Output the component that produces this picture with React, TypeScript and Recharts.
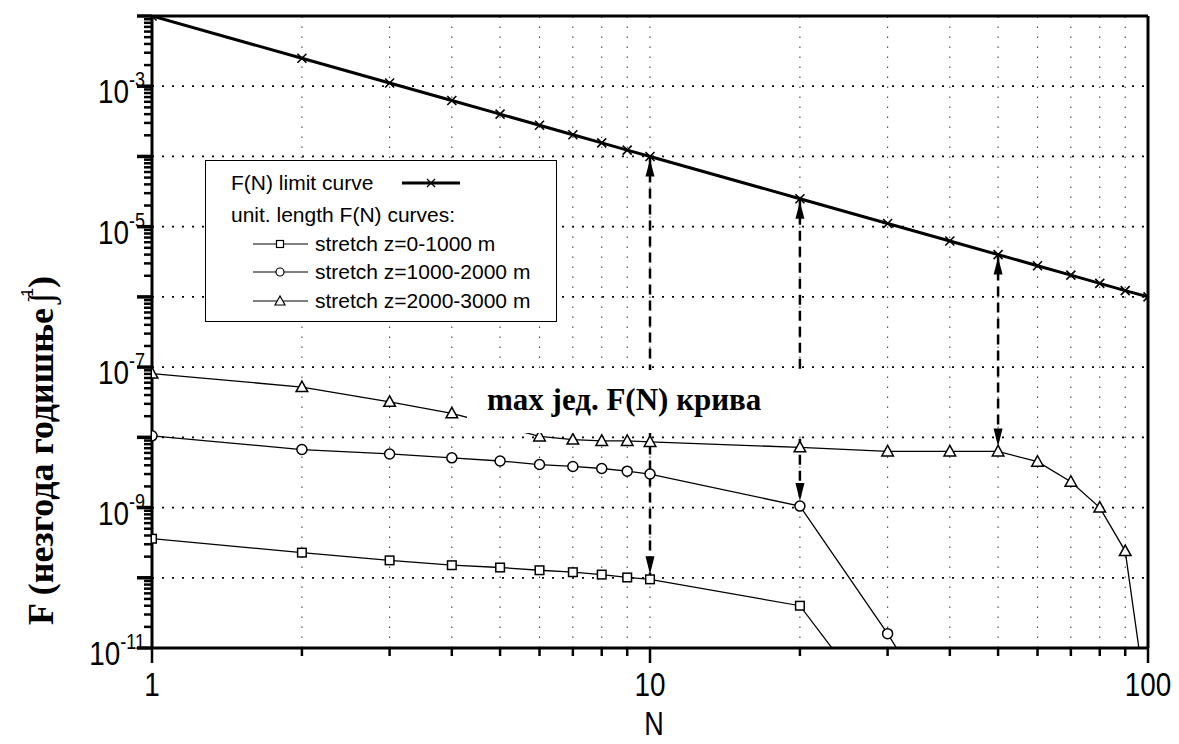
import React from 'react';
import { LineChart, Line, XAxis, YAxis, ReferenceLine } from 'recharts';

document.body.style.margin = '0';

const sans = '"Liberation Sans", Arial, sans-serif';
const serif = '"Liberation Serif", "Times New Roman", serif';
// axis numbers use a condensed sans: regular sans squeezed horizontally
const NARROW = 0.82;

// ── data ─────────────────────────────────────────────
// F(N) limit curve
const nLimit = [1, 2, 3, 4, 5, 6, 7, 8, 9, 10, 20, 30, 40, 50, 60, 70, 80, 90, 100];
const fLimit = [
  1e-2, 2.5e-3, 1.11e-3, 6.25e-4, 4e-4, 2.78e-4, 2.04e-4, 1.56e-4, 1.23e-4, 1e-4,
  2.5e-5, 1.11e-5, 6.25e-6, 4e-6, 2.78e-6, 2.04e-6, 1.56e-6, 1.23e-6, 1e-6,
];

// stretch z=0-1000 m
const nStretch0 = [1, 2, 3, 4, 5, 6, 7, 8, 9, 10, 20, 30];
const fStretch0 = [
  3.6e-10, 2.28e-10, 1.77e-10, 1.51e-10, 1.4e-10, 1.28e-10, 1.2e-10, 1.11e-10, 1.01e-10, 9.5e-11,
  4.0e-11, 9e-13,
];

// stretch z=1000-2000 m
const nStretch1 = [1, 2, 3, 4, 5, 6, 7, 8, 9, 10, 20, 30, 40];
const fStretch1 = [
  1.05e-8, 6.7e-9, 5.8e-9, 5.1e-9, 4.6e-9, 4.1e-9, 3.85e-9, 3.6e-9, 3.3e-9, 3.0e-9,
  1.05e-9, 1.6e-11, 6e-13,
];

// stretch z=2000-3000 m
const nStretch2 = [1, 2, 3, 4, 5, 6, 7, 8, 9, 10, 20, 30, 40, 50, 60, 70, 80, 90, 100];
const fStretch2 = [
  8.1e-8, 5.2e-8, 3.2e-8, 2.2e-8, 1.45e-8, 1.03e-8, 9.3e-9, 8.9e-9, 8.9e-9, 8.6e-9,
  7.2e-9, 6.3e-9, 6.3e-9, 6.3e-9, 4.5e-9, 2.33e-9, 1.0e-9, 2.4e-10, 1.2e-12,
];

// dashed arrows: limit curve -> governing stretch curve
const arrowN = [10, 20, 50];
const arrowStretch = [0, 1, 2];

// axes
const xTicks = [1, 2, 3, 4, 5, 6, 7, 8, 9, 10, 20, 30, 40, 50, 60, 70, 80, 90, 100];
const xLabels = [1, 10, 100];
const yDecades = [-11, -10, -9, -8, -7, -6, -5, -4, -3];
const yMantissas = [1, 2, 3, 4, 5, 6, 7, 8, 9];
const yLabelExp = [-3, -5, -7, -9, -11];
const gridY = [1e-10, 1e-9, 1e-8, 1e-7, 1e-6, 1e-5, 1e-4, 1e-3];
const gridX = [2, 3, 4, 5, 6, 7, 8, 9, 10, 20, 30, 40, 50, 60, 70, 80, 90];

const yTicks = [...yDecades.flatMap((e) => yMantissas.map((m) => m * Math.pow(10, e))), 1e-2];

const toPoints = (ns: number[], fs: number[]) => ns.map((x, i) => ({ x, y: fs[i] }));

const limitData = toPoints(nLimit, fLimit);
const stretchData = [
  toPoints(nStretch0, fStretch0),
  toPoints(nStretch1, fStretch1),
  toPoints(nStretch2, fStretch2),
];

const arrowData = arrowN.map((n, i) => {
  const s = stretchData[arrowStretch[i]];
  return [
    { x: n, y: fLimit[nLimit.indexOf(n)] },
    { x: n, y: s.find((p) => p.x === n)!.y },
  ];
});

// ── markers ──────────────────────────────────────────
const CrossDot = (p: any) => {
  const { cx, cy, index } = p;
  if (cx == null || cy == null) return <g key={`x-${index}`} />;
  return (
    <g key={`x-${index}`} stroke="#000" strokeWidth={1.6}>
      <line x1={cx - 4.5} y1={cy - 4.5} x2={cx + 4.5} y2={cy + 4.5} />
      <line x1={cx - 4.5} y1={cy + 4.5} x2={cx + 4.5} y2={cy - 4.5} />
    </g>
  );
};

const SquareDot = (p: any) => {
  const { cx, cy, index } = p;
  if (cx == null || cy == null) return <g key={`s-${index}`} />;
  return <rect key={`s-${index}`} x={cx - 4.3} y={cy - 4.3} width={8.6} height={8.6} fill="#fff" stroke="#000" strokeWidth={1.5} />;
};

const CircleDot = (p: any) => {
  const { cx, cy, index } = p;
  if (cx == null || cy == null) return <g key={`c-${index}`} />;
  return <circle key={`c-${index}`} cx={cx} cy={cy} r={5} fill="#fff" stroke="#000" strokeWidth={1.5} />;
};

const TriangleDot = (p: any) => {
  const { cx, cy, index } = p;
  if (cx == null || cy == null) return <g key={`t-${index}`} />;
  return (
    <polygon
      key={`t-${index}`}
      points={`${cx},${cy - 6} ${cx - 5.8},${cy + 4.5} ${cx + 5.8},${cy + 4.5}`}
      fill="#fff"
      stroke="#000"
      strokeWidth={1.5}
    />
  );
};

// first point of an arrow is the top end, second the bottom end
const ArrowHead = (p: any) => {
  const { cx, cy, index } = p;
  if (cx == null || cy == null) return <g key={`a-${index}`} />;
  const pts =
    index === 0
      ? `${cx},${cy + 3} ${cx - 4.5},${cy + 20} ${cx + 4.5},${cy + 20}`
      : `${cx},${cy - 5} ${cx - 4.5},${cy - 23} ${cx + 4.5},${cy - 23}`;
  return <polygon key={`a-${index}`} points={pts} fill="#000" />;
};

// ── axes ─────────────────────────────────────────────
const XTick = (p: any) => {
  const { x, y, payload } = p;
  const major = xLabels.includes(payload.value);
  return (
    <g>
      <line x1={x} x2={x} y1={y} y2={y + (major ? 15 : 8)} stroke="#000" strokeWidth={2.5} />
      {major && (
        <text
          transform={`translate(${x},${y + 48}) scale(${NARROW},1)`}
          textAnchor="middle"
          fontFamily={sans}
          fontSize={34}
          fill="#000"
        >
          {payload.value}
        </text>
      )}
    </g>
  );
};

const YTick = (p: any) => {
  const { x, y, payload } = p;
  const lg = Math.log10(payload.value);
  const e = Math.round(lg);
  const major = Math.abs(lg - e) < 1e-6;
  return (
    <g>
      <line x1={x - (major ? 15 : 8)} x2={x} y1={y} y2={y} stroke="#000" strokeWidth={major ? 3.5 : 2.5} />
      {major && yLabelExp.includes(e) && (
        <text
          transform={`translate(${x - 7},${y + 17}) scale(${NARROW},1)`}
          textAnchor="end"
          fontFamily={sans}
          fontSize={34}
          fill="#000"
        >
          10
          <tspan dy={-16} fontSize={22}>
            {e}
          </tspan>
        </text>
      )}
    </g>
  );
};

const XTitle = () => (
  <text
    transform={`translate(654,735) scale(${NARROW},1)`}
    textAnchor="middle"
    fontFamily={sans}
    fontSize={33}
    fill="#000"
  >
    N
  </text>
);

const YTitle = () => (
  <text transform="translate(53,625) rotate(-90)" fontFamily={serif} fontWeight="bold" fontSize={36} fill="#000">
    F (незгода годишње
    <tspan dx={4} fontWeight="normal">ʃ</tspan>
    <tspan dx={-10} dy={-20} fontFamily={sans} fontWeight="normal" fontSize={16}>-1</tspan>
    <tspan dy={20}>)</tspan>
  </text>
);

// ── legend ───────────────────────────────────────────
const LegendBox = () => {
  const rows = [
    { label: 'stretch z=0-1000 m', marker: 'square', y: 90 },
    { label: 'stretch z=1000-2000 m', marker: 'circle', y: 118 },
    { label: 'stretch z=2000-3000 m', marker: 'triangle', y: 147 },
  ];
  return (
    <div
      style={{
        position: 'absolute',
        left: 205,
        top: 160,
        width: 352,
        height: 162,
        boxSizing: 'border-box',
        border: '1.5px solid #000',
        background: '#fff',
      }}
    >
      <svg width={349} height={159} style={{ display: 'block' }} fontFamily={sans} fontSize={21}>
        <text x={25} y={29}>F(N) limit curve</text>
        <line x1={196} x2={254} y1={22} y2={22} stroke="#000" strokeWidth={3} />
        <g stroke="#000" strokeWidth={1.3}>
          <line x1={221} y1={18} x2={229} y2={26} />
          <line x1={221} y1={26} x2={229} y2={18} />
        </g>
        <text x={25} y={61}>unit. length F(N) curves:</text>
        {rows.map((r) => {
          const cy = r.y - 7;
          return (
            <g key={r.label}>
              <line x1={47} x2={102} y1={cy} y2={cy} stroke="#000" strokeWidth={1.2} />
              {r.marker === 'square' && (
                <rect x={70.5} y={cy - 3.5} width={7} height={7} fill="#fff" stroke="#000" strokeWidth={1.2} />
              )}
              {r.marker === 'circle' && <circle cx={74} cy={cy} r={4} fill="#fff" stroke="#000" strokeWidth={1.2} />}
              {r.marker === 'triangle' && (
                <polygon
                  points={`74,${cy - 5} ${69},${cy + 4} ${79},${cy + 4}`}
                  fill="#fff"
                  stroke="#000"
                  strokeWidth={1.2}
                />
              )}
              <text x={109} y={r.y}>{r.label}</text>
            </g>
          );
        })}
      </svg>
    </div>
  );
};

const CurveNote = () => (
  <div style={{ position: 'absolute', left: 467, top: 370, width: 343, height: 63, background: '#fff' }}>
    <svg width={343} height={63} style={{ display: 'block' }}>
      <text x={20} y={40} fontFamily={serif} fontWeight="bold" fontSize={31} fill="#000">
        max јед. F(N) крива
      </text>
    </svg>
  </div>
);

export default function App() {
  return (
    <div style={{ position: 'relative', width: 1179, height: 744, background: '#fff' }}>
      <LineChart width={1179} height={744} margin={{ top: 16, right: 31, bottom: 0, left: 0 }}>
        <XAxis
          dataKey="x"
          type="number"
          scale="log"
          domain={[1, 100]}
          allowDataOverflow
          ticks={xTicks}
          interval={0}
          tickSize={0}
          tickMargin={0}
          tickLine={false}
          tick={<XTick />}
          axisLine={{ stroke: '#000', strokeWidth: 3 }}
          height={96}
          label={<XTitle />}
        />
        <YAxis
          dataKey="y"
          type="number"
          scale="log"
          domain={[1e-11, 1e-2]}
          allowDataOverflow
          ticks={yTicks}
          interval={0}
          tickSize={0}
          tickMargin={0}
          tickLine={false}
          tick={<YTick />}
          axisLine={{ stroke: '#000', strokeWidth: 3 }}
          width={152}
          label={<YTitle />}
        />

        {gridY.map((v) => (
          <ReferenceLine key={`gy-${v}`} y={v} stroke="#000" strokeWidth={1.8} strokeDasharray="2 8" />
        ))}
        {gridX.map((v) => (
          <ReferenceLine key={`gx-${v}`} x={v} stroke="#444" strokeWidth={1.1} strokeDasharray="1.5 8.5" />
        ))}

        <Line
          data={stretchData[0]}
          dataKey="y"
          stroke="#000"
          strokeWidth={1.3}
          dot={SquareDot}
          isAnimationActive={false}
          name="stretch z=0-1000 m"
        />
        <Line
          data={stretchData[1]}
          dataKey="y"
          stroke="#000"
          strokeWidth={1.3}
          dot={CircleDot}
          isAnimationActive={false}
          name="stretch z=1000-2000 m"
        />
        <Line
          data={stretchData[2]}
          dataKey="y"
          stroke="#000"
          strokeWidth={1.3}
          dot={TriangleDot}
          isAnimationActive={false}
          name="stretch z=2000-3000 m"
        />
        <Line
          data={limitData}
          dataKey="y"
          stroke="#000"
          strokeWidth={3}
          dot={CrossDot}
          isAnimationActive={false}
          name="F(N) limit curve"
        />
        {arrowData.map((d, i) => (
          <Line
            key={`arrow-${i}`}
            data={d}
            dataKey="y"
            stroke="#000"
            strokeWidth={2.5}
            strokeDasharray="10 6"
            dot={ArrowHead}
            isAnimationActive={false}
            legendType="none"
          />
        ))}

        <ReferenceLine y={1e-2} stroke="#000" strokeWidth={3} />
        <ReferenceLine x={100} stroke="#000" strokeWidth={3} />
      </LineChart>
      <LegendBox />
      <CurveNote />
    </div>
  );
}
